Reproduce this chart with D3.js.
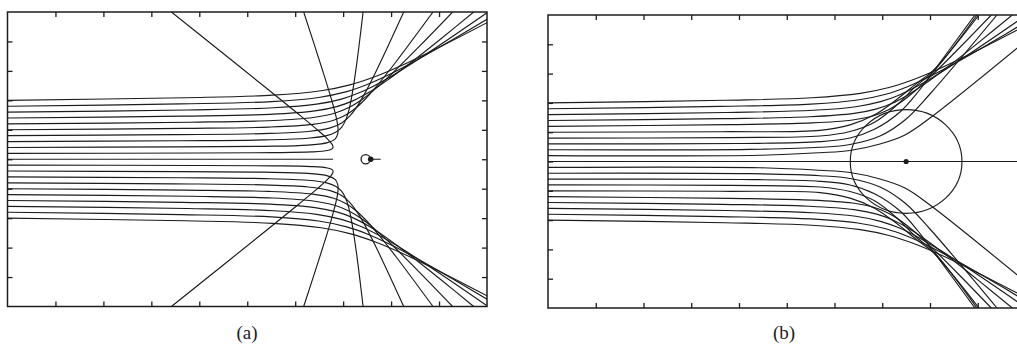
<!DOCTYPE html>
<html>
<head>
<meta charset="utf-8">
<script src="https://cdn.jsdelivr.net/npm/d3@7"></script>
<style>
  body { margin: 0; background: #fff; }
  svg { display: block; }
</style>
</head>
<body>
<svg id="fig" width="1017" height="345"></svg>
<script>
// Axis divisions (no numeric labels are printed, only inward ticks)
const xTicks = [1, 2, 3, 4, 5, 6, 7, 8, 9];
const yTicks = [-4, -3, -2, -1, 0, 1, 2, 3, 4];
const panelLabels = ["(a)", "(b)"];

// Panel (a): point-like scatterer, trajectories above the axis ([x, y] in axis units)
const aUpper = [
  [[0,0.2],[3.983,0.211],[5.539,0.223],[6.334,0.248],[6.673,0.295],[6.770,0.353],[6.790,0.410],[6.770,0.505],[6.680,0.677],[6.488,0.963],[6.067,1.535],[5.344,2.488],[3.418,5.0]],
  [[0,0.4],[3.593,0.420],[5.357,0.439],[6.267,0.482],[6.675,0.564],[6.837,0.695],[6.887,0.859],[6.893,1.056],[6.861,1.383],[6.755,2.039],[6.570,3.022],[6.177,5.0]],
  [[0,0.6],[3.574,0.628],[5.361,0.657],[6.258,0.713],[6.657,0.802],[6.852,0.924],[6.967,1.086],[7.053,1.328],[7.124,1.692],[7.189,2.218],[7.282,3.23],[7.416,5.0]],
  [[0,0.8],[3.462,0.835],[5.322,0.871],[6.267,0.941],[6.732,1.065],[6.977,1.241],[7.136,1.462],[7.282,1.770],[7.444,2.212],[7.693,3.006],[8.263,5.0]],
  [[0,1.0],[3.689,1.046],[5.454,1.092],[6.367,1.185],[6.801,1.323],[7.064,1.508],[7.264,1.739],[7.472,2.063],[7.721,2.525],[8.103,3.31],[8.874,5.0]],
  [[0,1.2],[3.804,1.258],[5.529,1.316],[6.376,1.417],[6.820,1.562],[7.119,1.755],[7.386,2.021],[7.684,2.407],[8.038,2.938],[8.603,3.856],[9.283,5.0]],
  [[0,1.4],[3.650,1.463],[5.473,1.526],[6.411,1.642],[6.865,1.788],[7.199,1.982],[7.539,2.273],[7.902,2.661],[8.382,3.243],[9.021,4.067],[9.723,5.0]],
  [[0,1.6],[3.750,1.674],[5.550,1.748],[6.446,1.870],[6.963,2.043],[7.347,2.264],[7.748,2.583],[8.260,3.075],[8.955,3.813],[10,4.976]],
  [[0,1.8],[3.610,1.879],[5.504,1.959],[6.488,2.098],[7.073,2.296],[7.514,2.545],[7.983,2.892],[8.559,3.388],[9.253,4.034],[10,4.753]],
  [[0,2.0],[3.704,2.090],[5.527,2.175],[6.540,2.325],[7.140,2.525],[7.658,2.800],[8.242,3.200],[8.943,3.751],[10,4.637]]
];
// Panel (a): trajectories below the axis
const aLower = [
  [[0,-0.2],[3.983,-0.211],[5.539,-0.223],[6.334,-0.248],[6.673,-0.295],[6.770,-0.353],[6.790,-0.410],[6.770,-0.505],[6.680,-0.677],[6.488,-0.963],[6.067,-1.535],[5.344,-2.488],[3.418,-5.0]],
  [[0,-0.4],[3.593,-0.420],[5.357,-0.439],[6.267,-0.482],[6.675,-0.564],[6.837,-0.695],[6.887,-0.859],[6.893,-1.056],[6.861,-1.383],[6.755,-2.039],[6.570,-3.022],[6.177,-5.0]],
  [[0,-0.6],[3.574,-0.628],[5.361,-0.657],[6.258,-0.713],[6.657,-0.802],[6.852,-0.924],[6.967,-1.086],[7.053,-1.328],[7.124,-1.692],[7.189,-2.218],[7.282,-3.23],[7.416,-5.0]],
  [[0,-0.8],[3.462,-0.835],[5.322,-0.871],[6.267,-0.941],[6.732,-1.065],[6.977,-1.241],[7.136,-1.462],[7.282,-1.770],[7.444,-2.212],[7.693,-3.006],[8.263,-5.0]],
  [[0,-1.0],[3.689,-1.046],[5.454,-1.092],[6.367,-1.185],[6.801,-1.323],[7.064,-1.508],[7.264,-1.739],[7.472,-2.063],[7.721,-2.525],[8.103,-3.31],[8.874,-5.0]],
  [[0,-1.2],[3.804,-1.258],[5.529,-1.316],[6.376,-1.417],[6.820,-1.562],[7.119,-1.755],[7.386,-2.021],[7.684,-2.407],[8.038,-2.938],[8.603,-3.856],[9.283,-5.0]],
  [[0,-1.4],[3.650,-1.463],[5.473,-1.526],[6.411,-1.642],[6.865,-1.788],[7.199,-1.982],[7.539,-2.273],[7.902,-2.661],[8.382,-3.243],[9.021,-4.067],[9.723,-5.0]],
  [[0,-1.6],[3.750,-1.674],[5.550,-1.748],[6.446,-1.870],[6.963,-2.043],[7.347,-2.264],[7.748,-2.583],[8.260,-3.075],[8.955,-3.813],[10,-4.976]],
  [[0,-1.8],[3.610,-1.879],[5.504,-1.959],[6.488,-2.098],[7.073,-2.296],[7.514,-2.545],[7.983,-2.892],[8.559,-3.388],[9.253,-4.034],[10,-4.753]],
  [[0,-2.0],[3.704,-2.090],[5.527,-2.175],[6.540,-2.325],[7.140,-2.525],[7.658,-2.800],[8.242,-3.200],[8.943,-3.751],[10,-4.637]]
];
// Panel (a): head-on trajectory and the scatterer position
const aAxial = [[0,0],[6.79,0]];
const aCentre = [7.47, 0];

// Panel (b): extended scatterer (boundary drawn as a ring), trajectories above the axis
const bUpper = [
  [[0,0.2],[4.440,0.212],[5.696,0.300],[6.325,0.375],[6.953,0.597],[7.476,0.904],[7.999,1.485],[9.990,4.092]],
  [[0,0.4],[4.230,0.416],[5.696,0.485],[6.325,0.580],[6.953,0.870],[7.476,1.416],[7.999,2.304],[9.403,5.0]],
  [[0,0.6],[4.021,0.614],[5.696,0.676],[6.325,0.802],[6.848,1.109],[7.372,1.689],[7.749,2.372],[8.063,3.055],[8.942,5.0]],
  [[0,0.8],[3.812,0.816],[5.696,0.870],[6.325,1.024],[6.848,1.348],[7.330,1.962],[7.707,2.577],[8.063,3.055],[8.984,5.0]],
  [[0,1.0],[3.602,1.017],[5.696,1.060],[6.325,1.250],[6.848,1.600],[7.330,2.150],[7.707,2.650],[8.063,3.100],[9.026,5.0]],
  [[0,1.2],[3.804,1.258],[5.529,1.316],[6.376,1.417],[6.820,1.562],[7.119,1.755],[7.386,2.021],[7.684,2.407],[8.038,2.938],[8.603,3.856],[9.283,5.0]],
  [[0,1.4],[3.650,1.463],[5.473,1.526],[6.411,1.642],[6.865,1.788],[7.199,1.982],[7.539,2.273],[7.902,2.661],[8.382,3.243],[9.021,4.067],[9.723,5.0]],
  [[0,1.6],[3.750,1.674],[5.550,1.748],[6.446,1.870],[6.963,2.043],[7.347,2.264],[7.748,2.583],[8.260,3.075],[8.955,3.813],[10,4.976]],
  [[0,1.8],[3.610,1.879],[5.504,1.959],[6.488,2.098],[7.073,2.296],[7.514,2.545],[7.983,2.892],[8.559,3.388],[9.253,4.034],[10,4.753]],
  [[0,2.0],[3.704,2.090],[5.527,2.175],[6.540,2.325],[7.140,2.525],[7.658,2.800],[8.242,3.200],[8.943,3.751],[10,4.637]]
];
// Panel (b): trajectories below the axis
const bLower = [
  [[0,-0.2],[4.440,-0.212],[5.696,-0.300],[6.325,-0.375],[6.953,-0.597],[7.476,-0.904],[7.999,-1.485],[9.990,-4.092]],
  [[0,-0.4],[4.230,-0.416],[5.696,-0.485],[6.325,-0.580],[6.953,-0.870],[7.476,-1.416],[7.999,-2.304],[9.403,-5.0]],
  [[0,-0.6],[4.021,-0.614],[5.696,-0.676],[6.325,-0.802],[6.848,-1.109],[7.372,-1.689],[7.749,-2.372],[8.063,-3.055],[8.942,-5.0]],
  [[0,-0.8],[3.812,-0.816],[5.696,-0.870],[6.325,-1.024],[6.848,-1.348],[7.330,-1.962],[7.707,-2.577],[8.063,-3.055],[8.984,-5.0]],
  [[0,-1.0],[3.602,-1.017],[5.696,-1.060],[6.325,-1.250],[6.848,-1.600],[7.330,-2.150],[7.707,-2.650],[8.063,-3.100],[9.026,-5.0]],
  [[0,-1.2],[3.804,-1.258],[5.529,-1.316],[6.376,-1.417],[6.820,-1.562],[7.119,-1.755],[7.386,-2.021],[7.684,-2.407],[8.038,-2.938],[8.603,-3.856],[9.283,-5.0]],
  [[0,-1.4],[3.650,-1.463],[5.473,-1.526],[6.411,-1.642],[6.865,-1.788],[7.199,-1.982],[7.539,-2.273],[7.902,-2.661],[8.382,-3.243],[9.021,-4.067],[9.723,-5.0]],
  [[0,-1.6],[3.750,-1.674],[5.550,-1.748],[6.446,-1.870],[6.963,-2.043],[7.347,-2.264],[7.748,-2.583],[8.260,-3.075],[8.955,-3.813],[10,-4.976]],
  [[0,-1.8],[3.610,-1.879],[5.504,-1.959],[6.488,-2.098],[7.073,-2.296],[7.514,-2.545],[7.983,-2.892],[8.559,-3.388],[9.253,-4.034],[10,-4.753]],
  [[0,-2.0],[3.704,-2.090],[5.527,-2.175],[6.540,-2.325],[7.140,-2.525],[7.658,-2.800],[8.242,-3.200],[8.943,-3.751],[10,-4.637]]
];
const bAxial = [[0,0],[10,0]];
const bCentre = [7.5, 0];
const bRing = { rx: 1.17, ry: 1.77 };   // ring half-widths in axis units

const svg = d3.select("#fig");
const ink = "#1c1c1c";

function drawPanel(id, box, upper, lower, axial) {
  const x = d3.scaleLinear().domain([0, 10]).range([box.left, box.right]);
  const y = d3.scaleLinear().domain([-5, 5]).range([box.bottom, box.top]);
  const g = svg.append("g").attr("class", "panel-" + id);

  svg.append("clipPath").attr("id", "clip-" + id)
    .append("rect")
    .attr("x", box.left).attr("y", box.top)
    .attr("width", box.right - box.left).attr("height", box.bottom - box.top);

  const plot = g.append("g").attr("clip-path", `url(#clip-${id})`);
  const line = d3.line().x(d => x(d[0])).y(d => y(d[1])).curve(d3.curveCatmullRom.alpha(0.5));

  plot.selectAll("path.traj")
    .data(upper.concat(lower))
    .join("path")
    .attr("class", "traj")
    .attr("d", line)
    .attr("fill", "none")
    .attr("stroke", ink)
    .attr("stroke-width", 1.15)
    .attr("stroke-linejoin", "round");

  plot.append("path")
    .attr("d", d3.line().x(d => x(d[0])).y(d => y(d[1]))(axial))
    .attr("fill", "none").attr("stroke", ink).attr("stroke-width", 1.15);

  // inward ticks on all four sides
  const tickLen = -5;
  const axes = [
    { a: d3.axisBottom(x).tickValues(xTicks), t: `translate(0,${box.bottom})` },
    { a: d3.axisTop(x).tickValues(xTicks), t: `translate(0,${box.top})` },
    { a: d3.axisLeft(y).tickValues(yTicks), t: `translate(${box.left},0)` },
    { a: d3.axisRight(y).tickValues(yTicks), t: `translate(${box.right},0)` }
  ];
  axes.forEach(ax => {
    const sel = g.append("g").attr("transform", ax.t)
      .call(ax.a.tickSize(tickLen).tickSizeOuter(0).tickFormat(""));
    sel.select(".domain").remove();
    sel.selectAll("line").attr("stroke", ink).attr("stroke-width", 1.3);
  });

  g.append("rect")
    .attr("x", box.left).attr("y", box.top)
    .attr("width", box.right - box.left).attr("height", box.bottom - box.top)
    .attr("fill", "none").attr("stroke", ink).attr("stroke-width", 1.5);

  return { x, y, plot };
}

// (a)
const pa = drawPanel("a", { left: 7.5, right: 487, top: 12, bottom: 306.5 }, aUpper, aLower, aAxial);
pa.plot.append("circle")
  .attr("cx", pa.x(aCentre[0])).attr("cy", pa.y(aCentre[1])).attr("r", 4.6)
  .attr("fill", "none").attr("stroke", ink).attr("stroke-width", 1.3);
pa.plot.append("circle")
  .attr("cx", pa.x(aCentre[0]) + 5).attr("cy", pa.y(aCentre[1])).attr("r", 2.8)
  .attr("fill", ink);
pa.plot.append("line")
  .attr("x1", pa.x(aCentre[0]) + 5).attr("x2", pa.x(aCentre[0]) + 15)
  .attr("y1", pa.y(aCentre[1])).attr("y2", pa.y(aCentre[1]))
  .attr("stroke", ink).attr("stroke-width", 1);

// (b)
const pb = drawPanel("b", { left: 548, right: 1025.5, top: 15, bottom: 308 }, bUpper, bLower, bAxial);
pb.plot.append("ellipse")
  .attr("cx", pb.x(bCentre[0])).attr("cy", pb.y(bCentre[1]))
  .attr("rx", pb.x(bCentre[0] + bRing.rx) - pb.x(bCentre[0]))
  .attr("ry", pb.y(bCentre[1]) - pb.y(bCentre[1] + bRing.ry))
  .attr("fill", "none").attr("stroke", ink).attr("stroke-width", 1.15);
pb.plot.append("circle")
  .attr("cx", pb.x(bCentre[0])).attr("cy", pb.y(bCentre[1])).attr("r", 2.6)
  .attr("fill", ink);

// panel captions
svg.selectAll("text.caption")
  .data([{ t: panelLabels[0], x: 247 }, { t: panelLabels[1], x: 784 }])
  .join("text")
  .attr("class", "caption")
  .attr("x", d => d.x).attr("y", 339)
  .attr("text-anchor", "middle")
  .attr("font-family", "'Liberation Serif', 'DejaVu Serif', serif")
  .attr("font-size", 19)
  .attr("fill", ink)
  .text(d => d.t);
</script>
</body>
</html>
